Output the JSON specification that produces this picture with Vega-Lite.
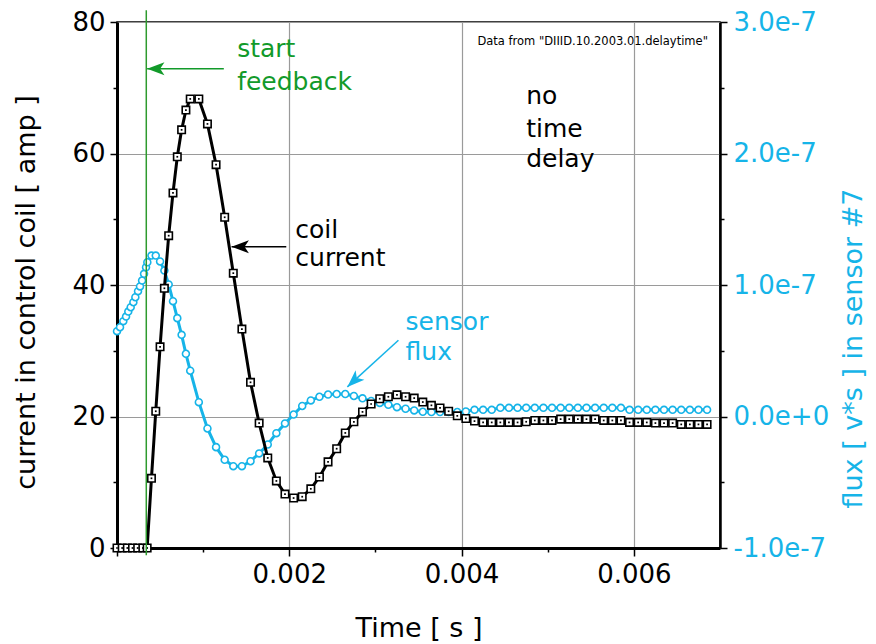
{
  "$schema": "https://vega.github.io/schema/vega-lite/v6.json",
  "width": 603,
  "height": 526,
  "autosize": {"type": "none"},
  "padding": {"left": 117, "top": 22, "right": 156, "bottom": 96},
  "background": "white",
  "config": {
    "font": "DejaVu Sans",
    "view": {"stroke": "black", "strokeWidth": 1.5},
    "axis": {
      "labelFont": "DejaVu Sans", "titleFont": "DejaVu Sans",
      "labelFontSize": 26, "titleFontSize": 27, "titleFontWeight": "normal",
      "labelColor": "black", "titleColor": "black",
      "domainColor": "black", "tickColor": "black",
      "gridColor": "#9a9a9a", "gridWidth": 1.2, "gridOpacity": 1,
      "tickWidth": 1.5, "domainWidth": 3
    }
  },
  "datasets": {
    "coil": [
      {"t": 0, "amp": 0}, {"t": 0.00006, "amp": 0}, {"t": 0.00012, "amp": 0}, {"t": 0.00018, "amp": 0},
      {"t": 0.00024, "amp": 0}, {"t": 0.0003, "amp": 0}, {"t": 0.00035, "amp": 0},
      {"t": 0.0004, "amp": 10.6}, {"t": 0.00045, "amp": 20.8}, {"t": 0.0005, "amp": 30.6}, {"t": 0.00055, "amp": 39.5},
      {"t": 0.0006, "amp": 47.5}, {"t": 0.00065, "amp": 54.0}, {"t": 0.0007, "amp": 59.5}, {"t": 0.00075, "amp": 63.6},
      {"t": 0.0008, "amp": 66.6}, {"t": 0.00085, "amp": 68.3}, {"t": 0.00095, "amp": 68.3}, {"t": 0.00105, "amp": 64.5},
      {"t": 0.00115, "amp": 58.3}, {"t": 0.00125, "amp": 50.3}, {"t": 0.00135, "amp": 41.8}, {"t": 0.00145, "amp": 33.3},
      {"t": 0.00155, "amp": 25.2}, {"t": 0.00165, "amp": 19.0}, {"t": 0.00175, "amp": 13.7}, {"t": 0.00185, "amp": 10.2},
      {"t": 0.00195, "amp": 8.2}, {"t": 0.00205, "amp": 7.6}, {"t": 0.00215, "amp": 7.8}, {"t": 0.00225, "amp": 9.0},
      {"t": 0.00235, "amp": 10.8}, {"t": 0.00245, "amp": 13.1}, {"t": 0.00255, "amp": 15.1}, {"t": 0.00265, "amp": 17.5},
      {"t": 0.00275, "amp": 19.2}, {"t": 0.00285, "amp": 20.7}, {"t": 0.00295, "amp": 21.9}, {"t": 0.00305, "amp": 22.7},
      {"t": 0.00315, "amp": 23.0}, {"t": 0.00325, "amp": 23.3}, {"t": 0.00335, "amp": 23.0}, {"t": 0.00345, "amp": 22.8},
      {"t": 0.00355, "amp": 22.2}, {"t": 0.00365, "amp": 21.7}, {"t": 0.00375, "amp": 21.3}, {"t": 0.00385, "amp": 20.8},
      {"t": 0.00395, "amp": 20.1}, {"t": 0.00405, "amp": 19.7}, {"t": 0.00415, "amp": 19.3}, {"t": 0.00425, "amp": 19.1},
      {"t": 0.00435, "amp": 19.1}, {"t": 0.00445, "amp": 19.1}, {"t": 0.00455, "amp": 19.1}, {"t": 0.00465, "amp": 19.1},
      {"t": 0.00475, "amp": 19.2}, {"t": 0.00485, "amp": 19.4}, {"t": 0.00495, "amp": 19.4}, {"t": 0.00505, "amp": 19.4},
      {"t": 0.00515, "amp": 19.6}, {"t": 0.00525, "amp": 19.6}, {"t": 0.00535, "amp": 19.6}, {"t": 0.00545, "amp": 19.6},
      {"t": 0.00555, "amp": 19.6}, {"t": 0.00565, "amp": 19.4}, {"t": 0.00575, "amp": 19.4}, {"t": 0.00585, "amp": 19.4},
      {"t": 0.00595, "amp": 19.1}, {"t": 0.00605, "amp": 19.1}, {"t": 0.00615, "amp": 19.1}, {"t": 0.00625, "amp": 19.0},
      {"t": 0.00635, "amp": 19.0}, {"t": 0.00645, "amp": 19.0}, {"t": 0.00655, "amp": 18.8}, {"t": 0.00665, "amp": 18.8},
      {"t": 0.00675, "amp": 18.8}, {"t": 0.00685, "amp": 18.8}
    ],
    "flux": [
      {"t": 0, "f": 0.649e-7}, {"t": 0.000035, "f": 0.679e-7}, {"t": 0.000073, "f": 0.725e-7}, {"t": 0.000105, "f": 0.760e-7},
      {"t": 0.000131, "f": 0.798e-7}, {"t": 0.000159, "f": 0.831e-7}, {"t": 0.00019, "f": 0.869e-7}, {"t": 0.000213, "f": 0.907e-7},
      {"t": 0.000244, "f": 0.953e-7}, {"t": 0.000267, "f": 0.989e-7}, {"t": 0.000291, "f": 1.034e-7}, {"t": 0.000314, "f": 1.085e-7},
      {"t": 0.000337, "f": 1.135e-7}, {"t": 0.000352, "f": 1.173e-7}, {"t": 0.0004, "f": 1.224e-7}, {"t": 0.00045, "f": 1.224e-7},
      {"t": 0.0005, "f": 1.179e-7}, {"t": 0.00055, "f": 1.110e-7}, {"t": 0.0006, "f": 1.004e-7}, {"t": 0.00065, "f": 0.877e-7},
      {"t": 0.0007, "f": 0.748e-7}, {"t": 0.00075, "f": 0.621e-7}, {"t": 0.0008, "f": 0.477e-7}, {"t": 0.00085, "f": 0.348e-7},
      {"t": 0.00095, "f": 0.109e-7}, {"t": 0.00105, "f": -0.091e-7}, {"t": 0.00115, "f": -0.233e-7}, {"t": 0.00125, "f": -0.329e-7},
      {"t": 0.00135, "f": -0.378e-7}, {"t": 0.00145, "f": -0.378e-7}, {"t": 0.00155, "f": -0.340e-7}, {"t": 0.00165, "f": -0.281e-7},
      {"t": 0.00175, "f": -0.213e-7}, {"t": 0.00185, "f": -0.127e-7}, {"t": 0.00195, "f": -0.053e-7}, {"t": 0.00205, "f": 0.015e-7},
      {"t": 0.00215, "f": 0.080e-7}, {"t": 0.00225, "f": 0.122e-7}, {"t": 0.00235, "f": 0.150e-7}, {"t": 0.00245, "f": 0.167e-7},
      {"t": 0.00255, "f": 0.171e-7}, {"t": 0.00265, "f": 0.171e-7}, {"t": 0.00275, "f": 0.156e-7}, {"t": 0.00285, "f": 0.138e-7},
      {"t": 0.00295, "f": 0.118e-7}, {"t": 0.00305, "f": 0.103e-7}, {"t": 0.00315, "f": 0.089e-7}, {"t": 0.00325, "f": 0.071e-7},
      {"t": 0.00335, "f": 0.059e-7}, {"t": 0.00345, "f": 0.046e-7}, {"t": 0.00355, "f": 0.036e-7}, {"t": 0.00365, "f": 0.034e-7},
      {"t": 0.00375, "f": 0.034e-7}, {"t": 0.00385, "f": 0.034e-7}, {"t": 0.00395, "f": 0.034e-7}, {"t": 0.00405, "f": 0.038e-7},
      {"t": 0.00415, "f": 0.051e-7}, {"t": 0.00425, "f": 0.051e-7}, {"t": 0.00435, "f": 0.051e-7}, {"t": 0.00445, "f": 0.066e-7},
      {"t": 0.00455, "f": 0.066e-7}, {"t": 0.00465, "f": 0.066e-7}, {"t": 0.00475, "f": 0.066e-7}, {"t": 0.00485, "f": 0.066e-7},
      {"t": 0.00495, "f": 0.066e-7}, {"t": 0.00505, "f": 0.066e-7}, {"t": 0.00515, "f": 0.066e-7}, {"t": 0.00525, "f": 0.066e-7},
      {"t": 0.00535, "f": 0.066e-7}, {"t": 0.00545, "f": 0.066e-7}, {"t": 0.00555, "f": 0.066e-7}, {"t": 0.00565, "f": 0.066e-7},
      {"t": 0.00575, "f": 0.066e-7}, {"t": 0.00585, "f": 0.066e-7}, {"t": 0.00595, "f": 0.051e-7}, {"t": 0.00605, "f": 0.051e-7},
      {"t": 0.00615, "f": 0.051e-7}, {"t": 0.00625, "f": 0.051e-7}, {"t": 0.00635, "f": 0.051e-7}, {"t": 0.00645, "f": 0.051e-7},
      {"t": 0.00655, "f": 0.051e-7}, {"t": 0.00665, "f": 0.051e-7}, {"t": 0.00675, "f": 0.051e-7}, {"t": 0.00685, "f": 0.051e-7}
    ],
    "marker": [{"t": 0.00034, "amp": -1.1, "amp2": 81.8}],
    "arrows": [
      {"series": "feedback", "t": 0.00035, "amp": 72.9, "t2": 0.00124, "amp2": 72.9},
      {"series": "coil", "t": 0.00133, "amp": 45.8, "t2": 0.001965, "amp2": 45.8},
      {"series": "flux", "t": 0.002674, "amp": 24.5, "t2": 0.003267, "amp2": 31.6}
    ],
    "notes": [
      {"series": "feedback", "t": 0.001395, "amp": 74.7, "label": "start"},
      {"series": "feedback", "t": 0.001395, "amp": 69.6, "label": "feedback"},
      {"series": "coil", "t": 0.00207, "amp": 47.1, "label": "coil"},
      {"series": "coil", "t": 0.00207, "amp": 42.9, "label": "current"},
      {"series": "flux", "t": 0.00335, "amp": 33.2, "label": "sensor"},
      {"series": "flux", "t": 0.00335, "amp": 28.6, "label": "flux"},
      {"series": "note", "t": 0.00475, "amp": 67.5, "label": "no"},
      {"series": "note", "t": 0.00475, "amp": 62.5, "label": "time"},
      {"series": "note", "t": 0.00475, "amp": 57.9, "label": "delay"}
    ],
    "source": [{"t": 0.00686, "amp": 76.5, "label": "Data from \"DIIID.10.2003.01.delaytime\""}]
  },
  "resolve": {"scale": {"y": "independent"}, "axis": {"x": "independent", "y": "independent"}},
  "layer": [
    {
      "data": {"name": "flux"},
      "mark": {"type": "line", "color": "#16b4e8", "strokeWidth": 3},
      "encoding": {
        "x": {"field": "t", "type": "quantitative", "scale": {"domain": [0, 0.007], "nice": false, "zero": false}, "axis": null},
        "y": {"field": "f", "type": "quantitative", "scale": {"domain": [-1e-7, 3e-7], "nice": false, "zero": false},
          "axis": {"orient": "right", "values": [-1e-7, 0, 1e-7, 2e-7, 3e-7],
            "labelExpr": "replace(format(datum.value, '.1e'), '\u2212', '-')",
            "labelColor": "#16b4e8", "titleColor": "#16b4e8", "title": "flux [ v*s ] in sensor #7",
            "tickSize": 7, "labelPadding": 6, "grid": false, "domainWidth": 2.5,
            "titleAngle": 270, "titleBaseline": "top", "titlePadding": 12, "titleY": 326}}
      }
    },
    {
      "data": {"name": "flux"},
      "mark": {"type": "point", "shape": "circle", "size": 48, "filled": true, "fill": "white", "stroke": "#16b4e8", "strokeWidth": 1.6, "opacity": 1},
      "encoding": {
        "x": {"field": "t", "type": "quantitative", "axis": null},
        "y": {"field": "f", "type": "quantitative", "scale": {"domain": [-1e-7, 3e-7], "nice": false, "zero": false},
          "axis": {"orient": "right", "values": [-0.5e-7, 0.5e-7, 1.5e-7, 2.5e-7], "labels": false, "domain": false, "grid": false, "tickSize": 4, "title": null}}
      }
    },
    {
      "data": {"name": "coil"},
      "mark": {"type": "line", "color": "black", "strokeWidth": 3},
      "encoding": {
        "x": {"field": "t", "type": "quantitative",
          "axis": {"orient": "bottom", "values": [0, 0.002, 0.004, 0.006],
            "labelExpr": "datum.value == 0 ? '' : format(datum.value, '.3f')",
            "tickSize": 8, "labelPadding": 5, "grid": true, "title": "Time [ s ]", "titlePadding": 28}},
        "y": {"field": "amp", "type": "quantitative", "scale": {"domain": [0, 80], "nice": false},
          "axis": {"orient": "left", "values": [0, 20, 40, 60, 80], "format": "d", "tickSize": 7, "labelPadding": 5,
            "grid": true, "title": "current in control coil [ amp ]", "titlePadding": 31, "titleY": 270}}
      }
    },
    {
      "data": {"name": "coil"},
      "mark": {"type": "point", "shape": "square", "size": 55, "filled": true, "fill": "white", "stroke": "black", "strokeWidth": 1.6, "opacity": 1},
      "encoding": {
        "x": {"field": "t", "type": "quantitative",
          "axis": {"orient": "bottom", "values": [0.001, 0.003, 0.005], "labels": false, "domain": false, "grid": false, "tickSize": 4, "title": null}},
        "y": {"field": "amp", "type": "quantitative", "scale": {"domain": [0, 80], "nice": false},
          "axis": {"orient": "left", "values": [10, 30, 50, 70], "labels": false, "domain": false, "grid": false, "tickSize": 4, "title": null}}
      }
    },
    {
      "data": {"name": "coil"},
      "mark": {"type": "point", "shape": "square", "size": 3, "filled": true, "color": "black", "opacity": 1},
      "encoding": {
        "x": {"field": "t", "type": "quantitative", "axis": null},
        "y": {"field": "amp", "type": "quantitative", "scale": {"domain": [0, 80], "nice": false}, "axis": null}
      }
    },
    {
      "data": {"name": "marker"},
      "mark": {"type": "rule", "color": "#2e9a2e", "strokeWidth": 1.5},
      "encoding": {
        "x": {"field": "t", "type": "quantitative", "axis": null},
        "y": {"field": "amp", "type": "quantitative", "scale": {"domain": [0, 80], "nice": false}, "axis": null},
        "y2": {"field": "amp2"}
      }
    },
    {
      "data": {"name": "arrows"},
      "mark": {"type": "rule", "strokeWidth": 1.5},
      "encoding": {
        "x": {"field": "t", "type": "quantitative", "axis": null},
        "x2": {"field": "t2"},
        "y": {"field": "amp", "type": "quantitative", "scale": {"domain": [0, 80], "nice": false}, "axis": null},
        "y2": {"field": "amp2"},
        "color": {"field": "series", "type": "nominal", "legend": null,
          "scale": {"domain": ["feedback", "coil", "flux", "note"], "range": ["#129a2a", "black", "#16b4e8", "black"]}}
      }
    },
    {
      "data": {"name": "arrows"},
      "transform": [{"filter": "datum.series != 'flux'"}],
      "mark": {"type": "point", "shape": "M0,0 L0.75,2 L0,1.5 L-0.75,2 Z", "size": 300, "filled": true, "angle": 270, "opacity": 1},
      "encoding": {
        "x": {"field": "t", "type": "quantitative", "axis": null},
        "y": {"field": "amp", "type": "quantitative", "scale": {"domain": [0, 80], "nice": false}, "axis": null},
        "color": {"field": "series", "type": "nominal", "legend": null}
      }
    },
    {
      "data": {"name": "arrows"},
      "transform": [{"filter": "datum.series == 'flux'"}],
      "mark": {"type": "point", "shape": "M0,0 L0.75,2 L0,1.5 L-0.75,2 Z", "size": 300, "filled": true, "angle": 227, "opacity": 1},
      "encoding": {
        "x": {"field": "t", "type": "quantitative", "axis": null},
        "y": {"field": "amp", "type": "quantitative", "scale": {"domain": [0, 80], "nice": false}, "axis": null},
        "color": {"field": "series", "type": "nominal", "legend": null}
      }
    },
    {
      "data": {"name": "notes"},
      "mark": {"type": "text", "align": "left", "baseline": "alphabetic", "font": "DejaVu Sans", "fontSize": 25},
      "encoding": {
        "x": {"field": "t", "type": "quantitative", "axis": null},
        "y": {"field": "amp", "type": "quantitative", "scale": {"domain": [0, 80], "nice": false}, "axis": null},
        "text": {"field": "label"},
        "color": {"field": "series", "type": "nominal", "legend": null}
      }
    },
    {
      "data": {"name": "source"},
      "mark": {"type": "text", "align": "right", "baseline": "alphabetic", "font": "DejaVu Sans", "fontSize": 11.5, "color": "black"},
      "encoding": {
        "x": {"field": "t", "type": "quantitative", "axis": null},
        "y": {"field": "amp", "type": "quantitative", "scale": {"domain": [0, 80], "nice": false}, "axis": null},
        "text": {"field": "label"}
      }
    }
  ]
}
